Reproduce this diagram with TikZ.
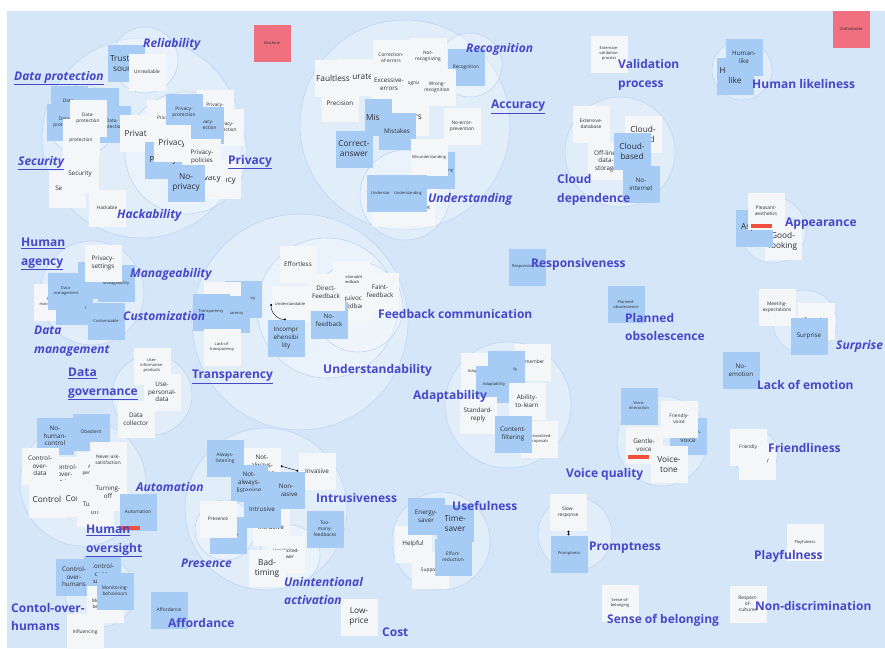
\documentclass[tikz,border=0pt]{standalone}
\usepackage{fontspec}
\setmainfont{Open Sans}
\usepackage{tikz}
\usetikzlibrary{arrows.meta, shadows}
\definecolor{boardblue}{RGB}{214,230,249}
\definecolor{ringblue}{RGB}{190,214,244}
\definecolor{noteblue}{RGB}{166,204,245}
\definecolor{notewhite}{RGB}{245,246,248}
\definecolor{notered}{RGB}{240,112,128}
\definecolor{notetext}{RGB}{45,45,50}
\definecolor{labelblue}{RGB}{70,72,200}
\definecolor{tagred}{RGB}{240,80,60}

\begin{document}
\begin{tikzpicture}[
        x=1pt, y=-1pt,
        wnote/.style={fill=notewhite, minimum width=37pt, minimum height=37pt, text width=36pt,
          align=center, inner sep=0.5pt, text=notetext, font=\fontsize{4.8}{5.8}\selectfont,
          drop shadow={shadow xshift=0.4pt, shadow yshift=-0.8pt, opacity=0.12}},
        bnote/.style={wnote, fill=noteblue},
        rnote/.style={wnote, fill=notered},
        fs/.style={font=\fontsize{4}{5}\selectfont},
        fm/.style={font=\fontsize{6.3}{7.6}\selectfont},
        fl/.style={font=\fontsize{8.3}{10}\selectfont},
        group/.style={circle, draw=ringblue, line width=0.6pt, fill=white, fill opacity=0.3, inner sep=0pt},
        lbl/.style={anchor=west, inner sep=0pt, text=labelblue, align=left,
          font=\fontsize{12}{18.5}\selectfont\bfseries},
        ilbl/.style={lbl, font=\fontsize{12}{18.5}\selectfont\bfseries\itshape},
        tagbar/.style={fill=tagred, minimum width=21pt, minimum height=3.5pt, inner sep=0pt},
        link/.style={{Circle[length=2pt]}-{Circle[length=2pt]}, line width=0.4pt, black},
        ]
        \useasboundingbox (0,0) rectangle (885,648);
        \fill[boardblue] (7,11) rectangle (885,648);

        \node[group, minimum size=200pt] (gsecurity) at (142,138) {};
        \node[group, minimum size=66pt] (greliab) at (145,60) {};
        \node[group, minimum size=70pt] (gdataprot) at (82,120) {};
        \node[group, minimum size=122pt] (gprivacy) at (186,153) {};
        \node[group, minimum size=210pt] (gaccuracy) at (405,125) {};
        \node[group, minimum size=64pt] (grecog) at (470,65) {};
        \node[group, minimum size=90pt] (gunderst) at (405,195) {};
        \node[group, minimum size=60pt] (ghuman) at (742,70) {};
        \node[group, minimum size=110pt] (gcloud) at (620,152) {};
        \node[group, minimum size=66pt] (gappear) at (773,230) {};
        \node[group, minimum size=64pt] (gsurprise) at (805,322) {};
        \node[group, minimum size=104pt] (gagency) at (92,293) {};
        \node[group, minimum size=80pt] (ggovern) at (152,395) {};
        \node[group, minimum size=216pt] (gunderstand) at (300,322) {};
        \node[group, minimum size=140pt] (gfeedback) at (327,308) {};
        \node[group, minimum size=90pt] (gfeedin) at (358,307) {};
        \node[group, minimum size=126pt] (gadapt) at (508,405) {};
        \node[group, minimum size=90pt] (gvoice) at (662,441) {};
        \node[group, minimum size=46pt] (gfriend) at (755,453) {};
        \node[group, minimum size=126pt] (goversight) at (83,483) {};
        \node[group, minimum size=162pt] (gintrus) at (266,509) {};
        \node[group, minimum size=60pt] (gpresence) at (225,530) {};
        \node[group, minimum size=60pt] (gunintent) at (290,555) {};
        \node[group, minimum size=98pt] (guseful) at (441,541) {};
        \node[group, minimum size=74pt] (gprompt) at (575,534) {};
        \node[group, minimum size=70pt] (gcontrol) at (100,592) {};

        \node[rnote, fs] (machine) at (272,43) {Machine};
        \node[rnote, fs] (unthink) at (851,29) {Unthinkable};

        \node[bnote, fl] (trust) at (126,63) {Trusted-\\source};
        \node[wnote] (unreal) at (147,72) {Unrealiable};
        \node[bnote] (dataprot1) at (69,104) {Data-\\protection};
        \node[bnote] (dataprot2) at (100,106) {Data-\\protection};
        \node[bnote] (dataprot3) at (65,122) {Data-\\protection};
        \node[bnote] (dataprot4) at (112,124) {Data-\\protection};
        \node[wnote] (dataprot5) at (81,137) {Data-\\protection};
        \node[wnote] (dataprot6) at (88,118) {Data-\\protection};
        \node[wnote, fm] (security1) at (67,189) {Security};
        \node[wnote, fm] (security2) at (80,174) {Security};
        \node[wnote] (hackable) at (107,208) {Hackable};
        \node[wnote, fl] (private) at (138,133) {Private};
        \node[wnote] (privacy1) at (165,118) {Privacy};
        \node[wnote] (privprot1) at (215,108) {Privacy-\\protection};
        \node[wnote] (privprot2) at (225,127) {Privacy-\\protection};
        \node[bnote] (privprot3) at (205,125) {Privacy-\\protection};
        \node[bnote] (privprot4) at (184,112) {Privacy-\\protection};
        \node[wnote, fl] (privacy2) at (222,180) {Privacy};
        \node[wnote, fl] (privacy3) at (207,178) {Privacy};
        \node[bnote, fl] (privacy4) at (163,160) {Privacy};
        \node[wnote, fl] (privacy5) at (172,143) {Privacy};
        \node[wnote, fm] (privpolicy) at (202,157) {Privacy-\\policies};
        \node[bnote, fl] (noprivacy) at (186,183) {No-\\privacy};

        \node[wnote] (correrr) at (391,58) {Correction-\\of-errors};
        \node[wnote] (notrecog) at (428,56) {Not-\\recognizing};
        \node[bnote] (recognote) at (466,67) {Recognition};
        \node[wnote] (recognizing) at (413,83) {Recognizing};
        \node[wnote, fl] (accurate) at (356,77) {Accurate};
        \node[wnote, fl] (faultless) at (333,78) {Faultless};
        \node[wnote, fm] (excess) at (389,84) {Excessive-\\errors};
        \node[wnote] (wrongrecog) at (437,87) {Wrong-\\recognition};
        \node[wnote, fm] (precision) at (340,103) {Precision};
        \node[bnote, fl] (mistakes1) at (383,117) {Mistakes};
        \node[wnote, fl] (errors) at (410,117) {Errors};
        \node[bnote, fm] (mistakes2) at (397,131) {Mistakes};
        \node[bnote, fl] (correct) at (354,149) {Correct-\\answer};
        \node[wnote] (noerror) at (462,126) {No-error-\\prevention};
        \node[bnote, fs] (misund2) at (436,170) {Misunderstanding};
        \node[wnote, fs] (misund1) at (429,157) {Misunderstanding};
        \node[wnote, fs] (underst3) at (390,208) {Understanding};
        \node[wnote, fs] (underst4) at (416,207) {Understanding};
        \node[bnote, fs] (underst1) at (385,193) {Understanding};
        \node[bnote, fs] (underst2) at (408,193) {Understanding};

        \node[wnote, fs] (extvalid) at (609,54) {Extensive-\\validation-\\process};
        \node[wnote] (extdb) at (591,124) {Extensive-\\database};
        \node[wnote, fl] (cloud1) at (643,134) {Cloud-\\based};
        \node[wnote, fm] (offline) at (606,161) {Off-line-\\data-\\storage};
        \node[bnote, fl] (cloud2) at (632,151) {Cloud-\\based};
        \node[bnote, fm] (nointernet) at (641,184) {No-\\internet};
        \node[bnote, fl] (humanlike2) at (735,76) {Human-\\like};
        \node[bnote, fm] (humanlike1) at (744,57) {Human-\\like};

        \node[wnote, fl] (goodlook) at (783,241) {Good-\\looking};
        \node[bnote, fl] (aspect) at (754,228) {Aspect};
        \node[wnote] (pleasant) at (766,211) {Pleasant-\\aesthetics};
        \node[tagbar] (tagappear) at (761,226) {};
        \node[bnote, fs] (respnote) at (527,267) {Responsiveness};
        \node[bnote, fs] (plannednote) at (626,304) {Planned-\\obsolescence};
        \node[wnote, fm] (surprise1) at (816,321) {Surprise};
        \node[wnote] (meetexp) at (777,307) {Meeting-\\expectations};
        \node[bnote, fm] (surprise2) at (809,336) {Surprise};
        \node[bnote, fm] (noemotion) at (741,370) {No-\\emotion};

        \node[wnote, fs] (datamgmt0) at (52,302) {Data-\\management};
        \node[bnote, fs] (manage1) at (96,280) {Manageability};
        \node[bnote, fs] (manage2) at (116,283) {Manageability};
        \node[bnote, fs] (datamgmt2) at (74,306) {Data-\\management};
        \node[bnote, fs] (datamgmt1) at (66,291) {Data-\\management};
        \node[bnote, fs] (customizable) at (106,321) {Customizable};
        \node[wnote, fm] (privsettings) at (103,263) {Privacy-\\settings};
        \node[wnote, fs] (userinfo) at (152,366) {User-\\information-\\products};
        \node[wnote, fm] (usepersonal) at (162,392) {Use-\\personal-\\data};
        \node[wnote, fm] (datacollect) at (136,419) {Data\\collector};

        \node[wnote, fm] (effortless) at (298,264) {Effortless};
        \node[wnote, fs] (questionable) at (351,279) {Questionable-\\feedback};
        \node[wnote, fm] (equivocal) at (354,302) {Equivocal-\\feedback};
        \node[bnote, fm] (nofeedback) at (329,320) {No-\\feedback};
        \node[wnote, fm] (directfb) at (326,292) {Direct-\\Feedback};
        \node[wnote, fm] (faintfb) at (380,291) {Faint-\\feedback};
        \node[wnote, fs] (understandable) at (290,304) {Understandable};
        \node[bnote, fm] (incompr) at (286,338) {Incompr\\ehensibi\\lity};
        \node[bnote, fs] (transp1) at (243,299) {Transparency};
        \node[wnote, fs] (transp2) at (222,300) {Transparency};
        \node[bnote, fs] (transp4) at (231,314) {Transparency};
        \node[bnote, fs] (transp3) at (211,312) {Transparency};
        \node[wnote, fs] (lacktransp) at (222,347) {Lack-of-\\transparency};

        \node[wnote, fs] (adapt0) at (479,371) {Adaptability};
        \node[wnote] (remember) at (532,362) {Remember};
        \node[bnote, fs] (adapt1) at (506,369) {Adaptability};
        \node[bnote, fs] (adapt2) at (494,384) {Adaptability};
        \node[wnote, fm] (abilitylearn) at (527,401) {Ability-\\to-learn};
        \node[wnote, fm] (standard) at (478,415) {Standard-\\reply};
        \node[wnote, fs] (personalized) at (539,439) {Personalized-\\proposals};
        \node[bnote, fm] (contentfilt) at (513,434) {Content-\\filtering};

        \node[bnote, fs] (voiceinter) at (639,406) {Voice-\\interaction};
        \node[bnote, fm] (friendvoice2) at (688,436) {Friendly-\\voice};
        \node[wnote] (friendvoice1) at (679,419) {Friendly-\\voice};
        \node[wnote, fm] (gentle) at (644,445) {Gentle-\\voice};
        \node[tagbar] (taggentle) at (638,457) {};
        \node[wnote, fl] (voicetone) at (669,464) {Voice-\\tone};
        \node[wnote, fm] (friendly2) at (757,461) {Friendly};
        \node[wnote] (friendly1) at (748,447) {Friendly};
        \node[wnote, fs] (playnote) at (805,542) {Playfulness};
        \node[wnote, fs] (belonging) at (620,603) {Sense-of-\\belonging};
        \node[wnote] (respect) at (748,604) {Respect-\\of-\\cultures};

        \node[wnote] (support) at (430,570) {Support};
        \node[wnote, fm] (helpful) at (413,544) {Helpful};
        \node[bnote, fl] (timesaver) at (455,523) {Time-\\saver};
        \node[bnote, fm] (energysaver) at (426,516) {Energy-\\saver};
        \node[bnote] (effortred) at (453,557) {Effort-\\reduction};
        \node[wnote] (slowresp) at (568,512) {Slow-\\response};
        \node[bnote, fs] (promptnote) at (569,554) {Promptness};
        \draw[link] (slowresp) -- (promptnote);

        \node[bnote] (obedient) at (91,432) {Obedient};
        \node[bnote, fm] (nohumanctrl) at (55,436) {No-\\human-\\control};
        \node[wnote, fm] (ctrlsettings) at (65,475) {Control-\\over-\\settings};
        \node[wnote, fm] (ctrldata) at (40,466) {Control-\\over-\\data};
        \node[wnote, fl] (control2) at (80,498) {Control};
        \node[wnote, fl] (control1) at (47,499) {Control};
        \node[wnote] (allowperm) at (95,470) {Allow-\\permission};
        \node[wnote, fm] (turnoff2) at (95,508) {Turning-\\off};
        \node[wnote] (neverask) at (108,460) {Never-ask-\\satisfaction};
        \node[wnote, fm] (turnoff1) at (108,492) {Turning-\\off};
        \node[bnote] (automnote) at (138,512) {Automation};
        \node[tagbar] (tagautom) at (129,528) {};
        \node[bnote, fm] (ctrlhumans2) at (102,574) {Control-\\over-\\humans};
        \node[bnote, fm] (ctrlhumans1) at (74,577) {Control-\\over-\\humans};
        \node[wnote] (monitor2) at (105,604) {Monitoring-\\behaviours};
        \node[bnote] (monitor1) at (115,591) {Monitoring-\\behaviours};
        \node[wnote] (influence) at (85,632) {Influencing};
        \node[bnote] (affordnote) at (169,610) {Affordance};

        \node[bnote] (alwayslisten) at (225,458) {Always-\\listening};
        \node[wnote, fm] (notalways1) at (262,466) {Not-\\always-\\listening};
        \node[bnote, fm] (notalways2) at (249,483) {Not-\\always-\\listening};
        \node[wnote, fm] (invasive) at (317,471) {Invasive};
        \node[bnote, fm] (noninvasive) at (286,490) {Non-\\invasive};
        \node[wnote, fm] (intrusive2) at (271,527) {Intrusive};
        \node[bnote, fm] (intrusive1) at (262,509) {Intrusive};
        \node[bnote] (presence2) at (228,535) {Presence};
        \node[wnote] (presence1) at (218,519) {Presence};
        \node[wnote] (unsolicited) at (286,554) {Unsolicited-\\answer};
        \node[wnote, fl] (badtiming) at (267,568) {Bad-\\timing};
        \node[bnote] (toomany) at (325,529) {Too-\\many-\\feedbacks};
        \node[wnote, fl] (lowprice) at (359,617) {Low-\\price};
        \draw[link] (notalways1.east) -- (invasive.west);
        \draw[link] (understandable.west) to[bend right=50] (incompr.north);

        \node[ilbl] (lreliab) at (143,44) {Reliability};
        \node[ilbl] (ldataprot) at (14,78) {\underline{Data protection}};
        \node[ilbl] (lsecurity) at (18,163) {\underline{Security}};
        \node[ilbl] (lhack) at (117,215) {Hackability};
        \node[lbl] (lprivacy) at (228,162) {\underline{Privacy}};
        \node[ilbl] (lrecog) at (466,49) {Recognition};
        \node[lbl] (laccuracy) at (491,107) {\underline{Accuracy}};
        \node[ilbl] (lunderst) at (428,199) {Understanding};
        \node[lbl] (lvalid) at (618,75) {Validation\\process};
        \node[lbl] (lhuman) at (752,84) {Human likeliness};
        \node[lbl] (lcloud) at (557,190) {Cloud\\dependence};
        \node[lbl] (lappear) at (785,224) {Appearance};
        \node[lbl] (lrespons) at (531,264) {Responsiveness};
        \node[lbl] (lagency) at (21,254) {\underline{Human}\\\underline{agency}};
        \node[ilbl] (lmanage) at (130,274) {Manageability};
        \node[ilbl] (lcustom) at (123,316) {Customization};
        \node[ilbl] (ldatamgmt) at (34,341) {Data\\management};
        \node[lbl] (lgovern) at (68,384) {\underline{Data}\\\underline{governance}};
        \node[lbl] (ltransp) at (192,377) {\underline{Transparency}};
        \node[lbl] (lfeedback) at (378,314) {Feedback communication};
        \node[lbl] (lunderstand) at (323,370) {Understandability};
        \node[lbl] (ladapt) at (413,396) {Adaptability};
        \node[lbl] (lplanned) at (625,327) {Planned\\obsolescence};
        \node[ilbl] (lsurprise) at (836,346) {Surprise};
        \node[lbl] (lemotion) at (757,385) {Lack of emotion};
        \node[lbl] (lfriend) at (768,448) {Friendliness};
        \node[lbl] (lvoice) at (566,474) {Voice quality};
        \node[ilbl] (lautom) at (136,487) {Automation};
        \node[lbl] (loversight) at (86,541) {\underline{Human}\\\underline{oversight}};
        \node[lbl] (lintrus) at (316,498) {Intrusiveness};
        \node[ilbl] (lpresence) at (181,563) {Presence};
        \node[ilbl] (lunintent) at (284,591) {Unintentional\\activation};
        \node[lbl] (luseful) at (452,506) {Usefulness};
        \node[lbl] (lprompt) at (589,548) {Promptness};
        \node[lbl] (lplay) at (754,556) {Playfulness};
        \node[lbl] (lcost) at (382,632) {Cost};
        \node[lbl] (lafford) at (168,623) {Affordance};
        \node[lbl] (lcontrol) at (11,617) {Contol-over-\\humans};
        \node[lbl] (lbelong) at (607,620) {Sense of belonging};
        \node[lbl] (lnondisc) at (755,606) {Non-discrimination};
      \end{tikzpicture}
\end{document}
